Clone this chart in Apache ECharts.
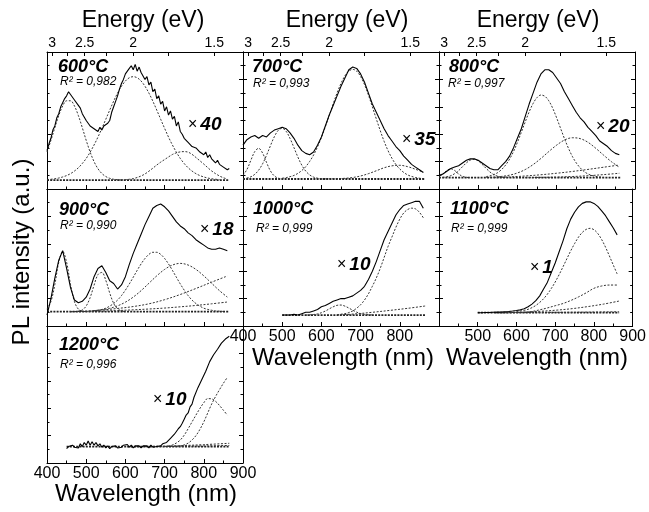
<!DOCTYPE html>
<html>
<head>
<meta charset="utf-8">
<title>PL spectra vs annealing temperature</title>
<script src="https://cdn.jsdelivr.net/npm/echarts@6/dist/echarts.min.js"></script>
<style>
  html, body { margin: 0; padding: 0; background: #fff; }
  #chart { width: 649px; height: 512px; }
</style>
</head>
<body>
<div id="chart"></div>
<script>
// ---- data (wavelength in nm, intensity in arbitrary units, 0-100 per panel) ----
const temps = ['600°C', '700°C', '800°C', '900°C', '1000°C', '1100°C', '1200°C'];
const r2Values = ['0,982', '0,993', '0,997', '0,990', '0,999', '0,999', '0,996'];
const factors = ['40', '35', '20', '18', '10', '1', '10'];
const energyLabels = [3, 2.5, 2, 1.5];
const energyMinor = [2.75, 2.25, 1.75];

// 600 °C
const pl600 = { from: 400, step: 5, y: [
  28, 33, 37, 43, 46, 52, 55, 60, 63, 66, 68, 71, 69, 68, 65, 66, 61, 59, 55, 54,
  50, 49, 46, 47, 44, 45, 42, 45, 43, 46, 45, 48, 50, 56, 60, 64, 68, 73, 77, 80,
  84, 86, 88, 90, 87, 91, 86, 89, 85, 84, 80, 82, 76, 78, 71, 73, 66, 68, 62, 64,
  57, 60, 54, 57, 51, 53, 46, 49, 42, 40, 37, 38, 34, 35, 31, 32, 30, 31, 27, 28,
  25, 27, 23, 25, 22, 23, 19, 21, 18, 19, 16, 17, 14, 15] };
const base600 = { from: 400, step: 465, y: [6.5, 6.5] };
const fit600 = [
  { from: 400, step: 10, y: [27.0, 35.5, 44.8, 53.6, 60.6, 64.4, 64.4, 60.6, 53.6, 44.8, 35.5, 27.0, 20.0, 14.8, 11.3, 9.1, 7.8, 7.1, 6.8, 6.6] },
  { from: 400, step: 10, y: [6.9, 7.1, 7.5, 8.0, 8.8, 9.8, 11.2, 13.1, 15.5, 18.6, 22.3, 26.9, 32.1, 37.9, 44.3, 50.9, 57.6, 64.1, 70.0, 75.0,
    78.8, 81.2, 82.0, 81.2, 78.8, 75.0, 70.0, 64.1, 57.6, 50.9, 44.3, 37.9, 32.1, 26.9, 22.3, 18.6, 15.5, 13.1, 11.2, 9.8, 8.8, 8.0, 7.5, 7.1, 6.9] },
  { from: 580, step: 10, y: [6.5, 6.6, 6.8, 7.1, 7.6, 8.4, 9.5, 11.0, 13.0, 15.2, 17.5, 19.6, 21.5, 23.4, 25.2, 26.4, 27.1, 27.3, 26.9, 25.3,
    23.0, 20.6, 18.2, 15.6, 13.2, 11.2, 9.5, 8.2, 7.3] }
];

// 700 °C
const pl700 = { from: 400, step: 10, y: [
  32, 36, 38, 39, 37, 39, 38, 41, 43, 44, 45, 44, 41, 37, 32, 28, 26, 25, 27, 32,
  38, 46, 54, 61, 68, 75, 81, 87, 89, 88, 84, 78, 70, 62, 56, 50, 44, 39, 35, 31,
  28, 24, 21, 18, 16, 14, 12] };
const base700 = { from: 400, step: 465, y: [7.3, 7.3] };
const fit700 = [
  { from: 400, step: 10, y: [10.0, 14.2, 20.9, 27.3, 29.7, 26.2, 19.4, 13.2, 9.5, 7.9, 7.4] },
  { from: 400, step: 10, y: [7.6, 8.0, 8.9, 10.7, 13.8, 18.4, 24.6, 31.6, 38.2, 42.8, 44.3, 42.1, 36.9, 30.2, 23.3, 17.4, 13.1, 10.3, 8.7, 7.9, 7.5] },
  { from: 500, step: 10, y: [7.9, 8.3, 9.0, 9.9, 11.4, 13.5, 16.3, 20.1, 24.8, 30.7, 37.6, 45.5, 53.7, 62.1, 70.1, 77.1, 82.6, 86.1, 87.3, 86.0,
    82.1, 76.2, 68.6, 60.0, 51.2, 42.7, 34.8, 28.0, 22.4, 17.9, 14.6, 12.1, 10.3, 9.2, 8.4, 7.9, 7.6] },
  { from: 600, step: 20, y: [7.3, 7.4, 7.5, 7.8, 8.4, 9.5, 11.2, 13.3, 15.5, 16.9, 17.3, 16.3, 14.4, 12.3] }
];

// 800 °C
const pl800 = { from: 400, step: 10, y: [
  10, 11, 13, 15, 16, 17, 19, 21, 22, 22, 21, 19, 17, 15, 14, 14, 17, 20, 24, 30,
  37, 44, 53, 62, 70, 78, 84, 87, 87, 85, 81, 77, 71, 66, 61, 56, 52, 49, 45, 42,
  39, 35, 33, 31, 28, 26, 25] };
const base800 = { from: 400, step: 465, y: [8.3, 8.3] };
const fit800 = [
  { from: 400, step: 10, y: [9.2, 11.0, 13.5, 14.8, 13.5, 11.0, 9.2, 8.5, 8.3] },
  { from: 400, step: 10, y: [8.4, 8.5, 8.9, 9.7, 11.2, 13.4, 16.3, 19.1, 21.1, 21.7, 20.5, 18.0, 15.1, 12.4, 10.5, 9.3, 8.7, 8.4] },
  { from: 520, step: 10, y: [9.0, 9.6, 10.5, 12.0, 14.3, 17.5, 21.8, 27.3, 34.0, 41.4, 49.0, 56.3, 62.4, 66.7, 68.6, 67.7, 64.4, 59.0, 52.0, 44.4,
    36.8, 29.9, 23.9, 19.1, 15.5, 12.8, 11.0, 9.9, 9.2, 8.8, 8.5] },
  { from: 520, step: 20, y: [8.5, 8.7, 9.2, 10.1, 11.7, 14.2, 17.8, 22.3, 27.3, 32.0, 35.7, 37.4, 36.8, 34.1, 29.7, 24.7, 19.9, 15.9] },
  { from: 540, step: 40, y: [8.4, 8.8, 9.5, 10.4, 11.5, 12.8, 14.3, 15.9, 17.5] },
  { from: 620, step: 40, y: [8.3, 8.5, 8.7, 9.1, 9.7, 10.5, 11.5] }
];

// 900 °C
const pl900 = { from: 400, step: 10, y: [
  8, 20, 35, 48, 55, 42, 28, 19, 17, 18, 21, 27, 36, 42, 44, 39, 33, 31, 27, 30,
  36, 45, 53, 60, 67, 74, 80, 86, 88, 89, 87, 84, 80, 76, 73, 71, 68, 66, 63, 61,
  59, 57, 56, 56, 57, 56, 55] };
const base900 = { from: 400, step: 465, y: [10.5, 10.5] };
const fit900 = [
  { from: 400, step: 10, y: [12.3, 17.8, 30.3, 46.5, 54.5, 46.5, 30.3, 17.8, 12.3, 10.8, 10.5] },
  { from: 460, step: 10, y: [10.5, 10.5, 10.8, 11.7, 14.6, 20.7, 29.7, 37.5, 39.1, 33.3, 24.1, 16.6, 12.6, 11.0, 10.6] },
  { from: 500, step: 10, y: [10.6, 10.8, 11.1, 11.5, 12.1, 13.0, 14.5, 16.4, 18.9, 22.2, 26.2, 30.7, 35.6, 40.6, 45.3, 49.3, 52.3, 53.8, 53.8, 52.3,
    49.3, 45.3, 40.6, 35.6, 30.7, 26.2, 22.2, 18.9, 16.4, 14.5, 13.0, 12.1, 11.5, 11.0, 10.8, 10.6] },
  { from: 520, step: 20, y: [11.1, 11.8, 12.9, 14.7, 17.4, 21.1, 25.8, 31.2, 36.6, 41.3, 44.5, 45.7, 44.5, 41.3, 36.6, 31.2, 25.8, 21.1] },
  { from: 460, step: 40, y: [10.5, 10.9, 11.7, 12.8, 14.2, 16.2, 19.2, 23.0, 27.4, 32.0, 36.5] },
  { from: 460, step: 40, y: [10.5, 10.6, 10.9, 11.3, 11.8, 12.4, 13.1, 14.0, 15.0, 16.2, 17.5] }
];

// 1000 °C
const pl1000 = { from: 500, step: 10, y: [
  8, 8, 8, 8.5, 8, 9, 10, 10, 11, 12, 14, 15, 16.5, 18, 19, 20, 20, 21, 22, 24,
  26, 29, 34, 40, 47, 55, 63, 69, 75, 81, 85, 88, 89, 90, 91, 91, 86] };
const base1000 = { from: 500, step: 365, y: [8, 8] };
const fit1000 = [
  { from: 640, step: 10, y: [8.3, 8.6, 9.0, 9.8, 11.0, 13.0, 15.5, 19.0, 23.5, 29.0, 35.0, 42.0, 50.0, 58.0, 65.0, 72.0, 78.0, 82.5, 85.0, 86.0,
    85.5, 83.0, 79.0] },
  { from: 560, step: 10, y: [8.0, 8.1, 8.4, 8.8, 9.7, 10.9, 12.5, 14.0, 15.1, 15.3, 14.5, 13.1, 11.5, 10.1, 9.1, 8.5, 8.2, 8.1] },
  { from: 640, step: 45, y: [8.0, 8.8, 10.0, 11.4, 12.9, 14.6] }
];

// 1100 °C
const pl1100 = { from: 500, step: 10, y: [
  9.7, 9.7, 9.8, 9.9, 10.0, 10.1, 10.2, 10.4, 10.6, 10.9, 11.3, 11.8, 12.6, 14.0, 16.0, 18.5, 22.0, 27.0, 32.0, 39.0,
  46.0, 54.0, 62.0, 71.0, 78.0, 83.0, 87.0, 89.5, 90.6, 90.7, 89.5, 87.3, 84.0, 80.5, 76.0, 71.5, 66.5] };
const base1100 = { from: 500, step: 365, y: [9.7, 9.7] };
const fit1100 = [
  { from: 600, step: 10, y: [10.4, 11.0, 11.4, 12.2, 13.4, 15.0, 17.2, 19.9, 23.3, 27.4, 32.1, 37.4, 43.1, 49.0, 54.8, 60.1, 64.8, 68.3, 70.5, 71.3,
    70.3, 67.5, 63.1, 57.5, 51.1, 44.5, 38.0] },
  { from: 560, step: 20, y: [9.7, 9.8, 9.9, 10.0, 10.6, 11.8, 13.2, 14.8, 16.4, 18.6, 21.2, 24.2, 27.5, 29.2, 29.9, 29.9] },
  { from: 545, step: 40, y: [9.7, 9.8, 10.2, 10.8, 11.6, 12.7, 14.2, 16.0, 18.2] },
  { from: 545, step: 80, y: [9.7, 9.8, 9.95, 10.15, 10.4] }
];

// 1200 °C
const pl1200 = { from: 450, step: 5, y: [
  10.5, 12, 11, 13, 11.5, 12.5, 11, 14, 12, 15, 13, 16, 13, 15.5, 13, 15, 12.5, 14, 11.5, 13,
  11, 12.5, 10.5, 12, 11, 12.5, 11, 12, 11.5, 13, 12, 13.5, 11.5, 13, 11, 12.5, 11.5, 12.5, 11, 12.5,
  11.5, 12.5, 11, 13, 11.5, 12.5, 12, 13, 12.5, 14, 13.5, 15, 15.5, 18, 18.5, 21, 22, 25, 26.5, 29,
  32, 35, 36.5, 41, 43, 48, 49, 55, 55.5, 61, 62, 67, 68, 74, 74.5, 79, 79.5, 83, 84, 87.5,
  87, 90.5, 90, 92.5] };
const base1200 = { from: 450, step: 415, y: [11.9, 11.9] };
const fit1200 = [
  { from: 700, step: 10, y: [12.0, 12.3, 13.2, 14.6, 16.8, 20.3, 25.0, 30.0, 35.0, 39.8, 44.0, 47.0, 46.8, 45.0, 42.0, 38.5, 35.0] },
  { from: 720, step: 10, y: [12.0, 12.2, 12.5, 13.2, 14.5, 16.8, 20.0, 24.5, 30.0, 36.5, 43.0, 48.5, 53.5, 58.2, 62.5] },
  { from: 605, step: 65, y: [11.9, 12.1, 12.6, 13.4, 14.4] },
  { from: 605, step: 130, y: [11.9, 12.2, 12.8] }
];

const spectra = [pl600, pl700, pl800, pl900, pl1000, pl1100, pl1200];
const baselines = [base600, base700, base800, base900, base1000, base1100, base1200];
const fits = [fit600, fit700, fit800, fit900, fit1000, fit1100, fit1200];

// ---- layout ----
const FONT = '"Liberation Sans", Arial, Helvetica, sans-serif';
const HC = 1240; // eV*nm
const colLeft = [47, 243, 439];
const rowTop = [52, 189, 326];
const W = 196, H = 137;
const cells = [[0, 0], [1, 0], [2, 0], [0, 1], [1, 1], [2, 1], [0, 2]];
// which panels carry wavelength tick labels: [show, showMin, showMax]
const bottomLabels = [null, null, null, null, [true, true, false], [true, false, true], [true, true, true]];
// text offsets inside each panel: temperature, R^2, multiplier
const textPos = [
  { t: [11, 15], r: [13, 29.5], f: [141, 73] },
  { t: [9, 15], r: [10, 32], f: [159, 88] },
  { t: [10, 15], r: [9, 32], f: [157, 74.5] },
  { t: [12, 21], r: [13, 36.5], f: [153, 41] },
  { t: [10, 20.5], r: [13, 40], f: [94, 75.5] },
  { t: [11, 20.5], r: [12, 40], f: [91, 78.5] },
  { t: [12, 19.5], r: [13, 39], f: [106, 74] }
];

const toPts = s => s.y.map((v, k) => [s.from + s.step * k, v]);

const black = { color: '#000', width: 1 };
const grids = [], xAxes = [], yAxes = [], series = [], graphics = [];

cells.forEach(([c, r], i) => {
  const left = colLeft[c], top = rowTop[r];
  grids.push({ left, top, width: W, height: H, show: false });

  const bl = bottomLabels[i];
  xAxes.push({
    gridIndex: i, type: 'value', position: 'bottom', min: 400, max: 900, interval: 100,
    axisLine: { onZero: false, lineStyle: black },
    axisTick: { inside: true, length: 4, lineStyle: black },
    minorTick: { show: true, splitNumber: 2, length: 2.5, lineStyle: black },
    splitLine: { show: false },
    axisLabel: {
      show: !!bl, showMinLabel: bl ? bl[1] : false, showMaxLabel: bl ? bl[2] : false,
      margin: 3, fontSize: 16, fontFamily: FONT, color: '#000'
    }
  });
  xAxes.push({
    gridIndex: i, type: 'value', position: 'top', min: 400, max: 900,
    axisLine: { onZero: false, lineStyle: black },
    axisTick: {
      show: r === 0, inside: true, length: 4, lineStyle: black,
      customValues: energyLabels.concat(energyMinor).map(e => HC / e)
    },
    splitLine: { show: false },
    axisLabel: {
      show: r === 0, margin: 2, fontSize: 14, fontFamily: FONT, color: '#000',
      customValues: energyLabels.map(e => HC / e),
      formatter: v => String(Number((HC / v).toFixed(2)))
    }
  });
  ['left', 'right'].forEach(pos => {
    yAxes.push({
      gridIndex: i, type: 'value', position: pos, min: 0, max: 100, interval: 20,
      axisLine: { show: true, onZero: false, lineStyle: black },
      axisTick: { show: true, inside: true, length: 4, lineStyle: black },
      minorTick: { show: true, splitNumber: 2, length: 2.5, lineStyle: black },
      splitLine: { show: false },
      axisLabel: { show: false }
    });
  });

  const common = { type: 'line', xAxisIndex: 2 * i, yAxisIndex: 2 * i, showSymbol: false, silent: true };
  series.push(Object.assign({}, common, {
    data: toPts(baselines[i]), z: 2,
    lineStyle: { color: '#222', width: 1.8, type: [2, 1.2] }
  }));
  fits[i].forEach(f => series.push(Object.assign({}, common, {
    data: toPts(f), smooth: 0.35, z: 3,
    lineStyle: { color: '#333', width: 1, type: [2, 1.6] }
  })));
  series.push(Object.assign({}, common, {
    data: toPts(spectra[i]), z: 5,
    lineStyle: { color: '#000', width: 1.1 }
  }));

  const p = textPos[i];
  graphics.push({
    type: 'text', x: left + p.t[0], y: top + p.t[1], z: 10,
    style: { text: temps[i], font: 'italic bold 18px ' + FONT, fill: '#000',
      align: 'left', verticalAlign: 'middle', textAlign: 'left', textVerticalAlign: 'middle' }
  });
  graphics.push({
    type: 'text', x: left + p.r[0], y: top + p.r[1], z: 10,
    style: { text: 'R² = ' + r2Values[i], font: 'italic 12px ' + FONT, fill: '#000',
      align: 'left', verticalAlign: 'middle', textAlign: 'left', textVerticalAlign: 'middle' }
  });
  graphics.push({
    type: 'text', x: left + p.f[0], y: top + p.f[1], z: 10,
    style: {
      text: '{x|×}{n|' + factors[i] + '}', fill: '#000',
      align: 'left', verticalAlign: 'middle', textAlign: 'left', textVerticalAlign: 'middle',
      rich: {
        x: { font: '16px ' + FONT, fill: '#000', padding: [0, 3, 0, 0] },
        n: { font: 'italic bold 19px ' + FONT, fill: '#000' }
      }
    }
  });
});

// axis titles
const titleStyle = (text, size) => ({
  text, font: size + 'px ' + FONT, fill: '#000',
  align: 'center', verticalAlign: 'middle', textAlign: 'center', textVerticalAlign: 'middle'
});
[143, 347, 538].forEach(x => graphics.push({ type: 'text', x, y: 21, style: titleStyle('Energy (eV)', 23) }));
[[146, 494], [343, 358], [537, 358]].forEach(([x, y]) =>
  graphics.push({ type: 'text', x, y, style: titleStyle('Wavelength (nm)', 24) }));
graphics.push({ type: 'text', x: 22, y: 252, rotation: Math.PI / 2, style: titleStyle('PL intensity (a.u.)', 24) });

const chart = echarts.init(document.getElementById('chart'), null, { renderer: 'canvas' });
chart.setOption({
  animation: false,
  backgroundColor: '#fff',
  grid: grids,
  xAxis: xAxes,
  yAxis: yAxes,
  series,
  graphic: graphics
});
</script>
</body>
</html>
